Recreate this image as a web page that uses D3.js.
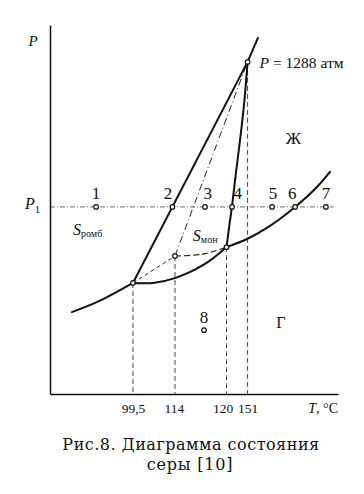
<!DOCTYPE html>
<html>
<head>
<meta charset="utf-8">
<script src="https://cdn.jsdelivr.net/npm/d3@7"></script>
<style>
  html, body { margin: 0; padding: 0; background: #fff; }
  svg { display: block; }
</style>
</head>
<body>
<svg id="chart" width="364" height="494"></svg>
<script>
// ---- Data (schematic units: x = temperature axis 0..100, y = pressure axis 0..100) ----
const tickLabels = ["99,5", "114", "120", "151"];
const tickPos = [28.8, 43.4, 61.3, 68.6];
const tickShift = [0, -1, -4, 0];

// key points
const tripleA = [28.8, 30.1];   // 99,5 °C
const pointB = [43.4, 37.4];    // 114 °C (metastable)
const tripleC = [61.3, 39.8];   // 120 °C
const critK = [68.6, 90.0];     // 151 °C, P = 1288 атм

// phase-boundary curves
const sublRhomb = [[7.6, 22.2], [17.4, 25.3], tripleA];
const sublMono = [tripleA, [35.8, 30.1], [43.4, 31.4], [53.1, 34.9], tripleC];
const boiling = [tripleC, [68.4, 42.0], [75.3, 45.0], [85.1, 50.7], [92.7, 56.1], [97.2, 60.2]];
const meltMono = [tripleC, [62.2, 45.3], [63.2, 50.9], [64.6, 60.2], [66.0, 68.9], [67.4, 78.6], critK];
const rhombMono = [tripleA, critK, [72.2, 96.5]];
// metastable lines
const metaDashed1 = [tripleA, pointB];
const metaDashed2 = [pointB, [53.1, 37.9], tripleC];
const metaDashDot = [pointB, critK];

// isobar P1
const p1Level = 50.7;
const p1Extent = [0, 98.5];
const p1Points = [16.0, 42.5, 53.8, 63.2, 77.1, 85.1, 95.8];
const p1Labels = ["1", "2", "3", "4", "5", "6", "7"];
const p1LabelShift = [0, -1.5, 1.0, 2.0, 0.3, -1.0, 0.0];
const point8 = [53.5, 17.3];

// ---- Drawing ----
const SERIF = '"Liberation Serif", "DejaVu Serif", serif';
const CAPF = '"DejaVu Serif", "Liberation Serif", serif';
const svg = d3.select("#chart");
const x = d3.scaleLinear().domain([0, 100]).range([50, 338]);
const y = d3.scaleLinear().domain([0, 100]).range([394, 25]);

const line = d3.line().x(d => x(d[0])).y(d => y(d[1]));
const smooth = d3.line().x(d => x(d[0])).y(d => y(d[1])).curve(d3.curveCatmullRom.alpha(0.5));

// vertical dashed guides
const guides = [tripleA, pointB, tripleC, critK];
svg.append("g").selectAll("line").data(guides).join("line")
  .attr("x1", d => x(d[0])).attr("x2", d => x(d[0]))
  .attr("y1", d => y(d[1])).attr("y2", y(0))
  .attr("stroke", "#333").attr("stroke-width", 0.9)
  .attr("stroke-dasharray", "5,3");

// P1 isobar (dash-dot)
svg.append("line")
  .attr("x1", x(p1Extent[0])).attr("x2", x(p1Extent[1]))
  .attr("y1", y(p1Level)).attr("y2", y(p1Level))
  .attr("stroke", "#444").attr("stroke-width", 0.8)
  .attr("stroke-dasharray", "5,2,1,2");

// metastable lines
svg.append("path").attr("d", line(metaDashed1))
  .attr("fill", "none").attr("stroke", "#222").attr("stroke-width", 1)
  .attr("stroke-dasharray", "4,3");
svg.append("path").attr("d", smooth(metaDashed2))
  .attr("fill", "none").attr("stroke", "#222").attr("stroke-width", 1.2)
  .attr("stroke-dasharray", "6,3");
svg.append("path").attr("d", line(metaDashDot))
  .attr("fill", "none").attr("stroke", "#222").attr("stroke-width", 1)
  .attr("stroke-dasharray", "7,3,1,3");

// phase boundaries (solid)
[sublRhomb, sublMono, boiling, meltMono].forEach(c => {
  svg.append("path").attr("d", smooth(c))
    .attr("fill", "none").attr("stroke", "#111").attr("stroke-width", 2)
    .attr("stroke-linecap", "round");
});
svg.append("path").attr("d", line(rhombMono))
  .attr("fill", "none").attr("stroke", "#111").attr("stroke-width", 2)
  .attr("stroke-linecap", "round");

// axes
const xAxis = d3.axisBottom(x).tickValues(tickPos)
  .tickFormat((d, i) => tickLabels[i]).tickSize(0).tickSizeOuter(0).tickPadding(9);
const gx = svg.append("g").attr("transform", `translate(0,${y(0)})`).call(xAxis);
gx.select(".domain").attr("stroke", "#111").attr("stroke-width", 1.5);
gx.selectAll("text").style("font-family", SERIF).style("font-size", "13.5px").attr("fill", "#111")
  .attr("dx", (d, i) => tickShift[i]);

const yAxis = d3.axisLeft(y).tickValues([]).tickSizeOuter(0);
const gy = svg.append("g").attr("transform", `translate(${x(0)},0)`).call(yAxis);
gy.select(".domain").attr("stroke", "#111").attr("stroke-width", 1.5);

// open circles
const circles = [tripleA, pointB, tripleC, critK, point8].concat(p1Points.map(v => [v, p1Level]));
svg.append("g").selectAll("circle").data(circles).join("circle")
  .attr("cx", d => x(d[0])).attr("cy", d => y(d[1])).attr("r", 2.3)
  .attr("fill", "#fff").attr("stroke", "#111").attr("stroke-width", 1.2);

const labels = svg.append("g").style("font-family", SERIF).attr("fill", "#111");

// point labels on P1
labels.append("g").selectAll("text").data(p1Points).join("text")
  .attr("x", (d, i) => x(d + p1LabelShift[i])).attr("y", y(p1Level) - 8)
  .attr("text-anchor", "middle").style("font-size", "17px")
  .text((d, i) => p1Labels[i]);
labels.append("text").attr("x", x(point8[0])).attr("y", y(point8[1]) - 7)
  .attr("text-anchor", "middle").style("font-size", "17px").text("8");

// axis titles and labels
labels.append("text").attr("x", x(0) - 17).attr("y", y(94.3)).style("font-size", "15px")
  .style("font-style", "italic").attr("text-anchor", "middle").text("P");
const p1t = labels.append("text").attr("x", x(0) - 25).attr("y", y(p1Level) + 2)
  .style("font-size", "16px");
p1t.append("tspan").style("font-style", "italic").text("P");
p1t.append("tspan").style("font-size", "11px").attr("dy", 4).text("1");

const tl = labels.append("text").attr("x", x(100)).attr("y", 413)
  .attr("text-anchor", "end").style("font-size", "14px");
tl.append("tspan").style("font-style", "italic").text("T");
tl.append("tspan").text(", °C");

const kl = labels.append("text").attr("x", x(critK[0]) + 12).attr("y", y(critK[1]) + 6)
  .style("font-size", "15.5px");
kl.append("tspan").style("font-style", "italic").text("P");
kl.append("tspan").text(" = 1288 атм");

labels.append("text").attr("x", x(84.5)).attr("y", y(67.8)).attr("text-anchor", "middle")
  .style("font-size", "17px").text("Ж");
labels.append("text").attr("x", x(80.2)).attr("y", y(17.9)).attr("text-anchor", "middle")
  .style("font-size", "16px").text("Г");

const sr = labels.append("text").attr("x", x(8)).attr("y", y(43.0)).style("font-size", "16px");
sr.append("tspan").style("font-style", "italic").text("S");
sr.append("tspan").style("font-size", "10px").attr("dy", 2).text("ромб");
const sm = labels.append("text").attr("x", x(49.6)).attr("y", y(41.5)).style("font-size", "16px");
sm.append("tspan").style("font-style", "italic").text("S");
sm.append("tspan").style("font-size", "10px").attr("dy", 2).text("мон");

// caption
const cap = svg.append("g").style("font-family", CAPF).attr("fill", "#111");
cap.append("text").attr("x", 191).attr("y", 450).attr("text-anchor", "middle")
  .style("font-size", "16px").style("letter-spacing", "0.5px").text("Рис.8. Диаграмма состояния");
cap.append("text").attr("x", 190).attr("y", 470).attr("text-anchor", "middle")
  .style("font-size", "16px").style("letter-spacing", "0.8px").text("серы [10]");
</script>
</body>
</html>
